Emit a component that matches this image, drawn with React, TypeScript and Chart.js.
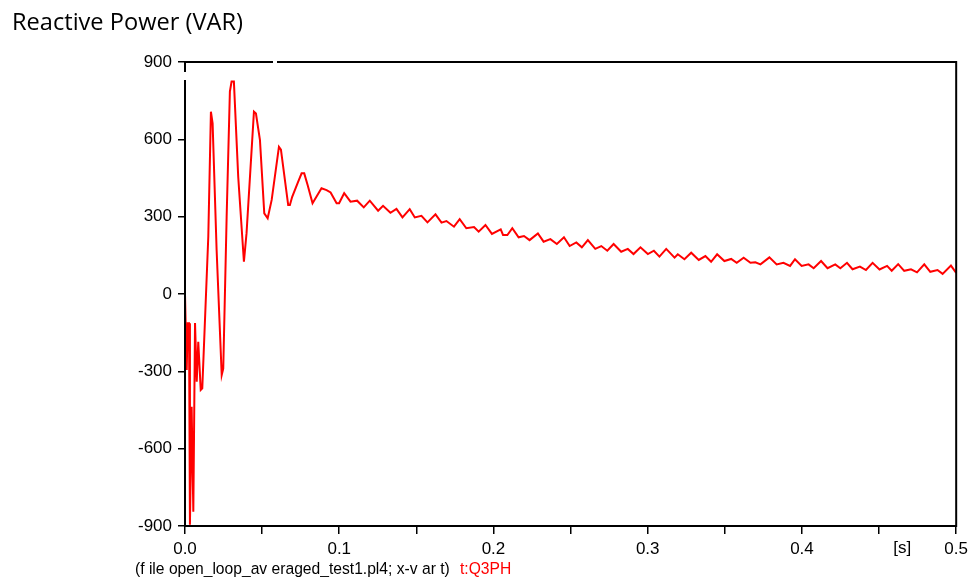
import { useEffect, useRef } from "react";
import { Chart, registerables } from "chart.js";

Chart.register(...registerables);

const TITLE = "Reactive Power (VAR)";
const FOOTER_FILE = "(f ile open_loop_av eraged_test1.pl4; x-v ar t)";
const FOOTER_VAR = "t:Q3PH";
const X_UNIT = "[s]";
const X_UNIT_AT = 0.465;
const X_MIN = 0;
const X_MAX = 0.5;
const X_STEP = 0.05;
const Y_MIN = -900;
const Y_MAX = 900;
const Y_STEP = 300;

const TIME = [
  0, 0.0011, 0.00175, 0.0026, 0.0032, 0.0043, 0.0054, 0.0065, 0.0076, 0.0086,
  0.0102, 0.0112, 0.0151, 0.0168, 0.0179, 0.0205, 0.0238, 0.0248, 0.027, 0.0291,
  0.0302, 0.0317, 0.0345, 0.0382, 0.0399, 0.0447, 0.046, 0.0486, 0.0514, 0.0536,
  0.0562, 0.0609, 0.0622, 0.0669, 0.068, 0.0695, 0.0734, 0.0756, 0.0773, 0.0795,
  0.0827, 0.0885, 0.0918, 0.0944, 0.0983, 0.0999, 0.1032, 0.1073, 0.1116, 0.1159,
  0.1198, 0.1252, 0.1284, 0.1332, 0.1371, 0.141, 0.1457, 0.149, 0.1533, 0.1572,
  0.1624, 0.1663, 0.1695, 0.1744, 0.1781, 0.1824, 0.1874, 0.1904, 0.1948, 0.199,
  0.2047, 0.2062, 0.209, 0.2122, 0.2163, 0.2198, 0.2234, 0.2288, 0.2325, 0.2369,
  0.2411, 0.2457, 0.2494, 0.2537, 0.2573, 0.2612, 0.266, 0.2699, 0.2738, 0.2779,
  0.2828, 0.2871, 0.2908, 0.2953, 0.3001, 0.304, 0.3076, 0.312, 0.3174, 0.3195,
  0.3238, 0.3282, 0.3331, 0.3374, 0.3411, 0.345, 0.3497, 0.3541, 0.3577, 0.3622,
  0.3666, 0.3698, 0.3731, 0.3789, 0.3836, 0.388, 0.3923, 0.3955, 0.3998, 0.4043,
  0.4076, 0.4124, 0.4166, 0.4216, 0.4249, 0.4292, 0.4328, 0.4376, 0.4415, 0.4458,
  0.4503, 0.4552, 0.4582, 0.4624, 0.4663, 0.4707, 0.4746, 0.4793, 0.4832, 0.4879,
  0.4912, 0.4966, 0.5,
];

const Q3PH = [
  0, -295, -113, -113, -895, -437, -845, -113, -340, -185,
  -372, -366, 222, 707, 662, 171, -314, -289, 300, 785,
  824, 824, 455, 125, 236, 707, 700, 597, 313, 294,
  365, 571, 560, 345, 345, 377, 436, 468, 468, 423,
  352, 410, 403, 394, 352, 352, 391, 358, 362, 336,
  362, 323, 342, 315, 330, 297, 329, 297, 303, 278,
  309, 277, 283, 261, 290, 255, 260, 242, 268, 233,
  251, 229, 229, 255, 220, 225, 209, 235, 203, 213,
  194, 220, 186, 200, 181, 209, 175, 186, 168, 194,
  164, 175, 155, 181, 155, 168, 145, 175, 141, 154,
  135, 160, 132, 147, 125, 154, 128, 136, 121, 141,
  121, 123, 115, 142, 115, 121, 109, 135, 109, 115,
  100, 128, 100, 115, 100, 121, 96, 106, 93, 121,
  95, 109, 90, 116, 90, 96, 84, 115, 86, 93,
  78, 110, 82,
];

const TICK_FONT = "'Liberation Sans', Arial, sans-serif";

const decorPlugin = {
  id: "decor",
  afterDraw(chart: any) {
    const { ctx, chartArea } = chart;
    const { left, right, top, bottom } = chartArea;
    ctx.save();
    // frame
    ctx.strokeStyle = "#000";
    ctx.lineWidth = 2;
    ctx.strokeRect(left, top, right - left, bottom - top);
    // small gaps present in the original frame
    ctx.fillStyle = "#fff";
    ctx.fillRect(273, top - 2, 4, 4);
    ctx.fillRect(left - 2, 72, 4, 8);

    // title
    ctx.fillStyle = "#000";
    ctx.textBaseline = "alphabetic";
    ctx.textAlign = "left";
    ctx.font = "20px 'Open Sans', sans-serif";
    let w = ctx.measureText(TITLE).width;
    const tSize = (20 * 231) / w;
    ctx.font = `${tSize}px 'Open Sans', sans-serif`;
    ctx.fillText(TITLE, 12, 29.5);

    // unit label on x axis
    const xs = chart.scales.x;
    ctx.font = `17px ${TICK_FONT}`;
    ctx.textAlign = "center";
    ctx.textBaseline = "top";
    ctx.fillText(X_UNIT, xs.getPixelForValue(X_UNIT_AT), bottom + 14);

    // footer
    ctx.textAlign = "left";
    ctx.textBaseline = "alphabetic";
    ctx.font = `14px ${TICK_FONT}`;
    w = ctx.measureText(FOOTER_FILE).width;
    const fSize = (14 * 315) / w;
    ctx.font = `${fSize}px ${TICK_FONT}`;
    ctx.fillText(FOOTER_FILE, 135, 574);
    ctx.fillStyle = "#ff0000";
    ctx.fillText(FOOTER_VAR, 460, 574);
    ctx.restore();
  },
};

export default function App() {
  const ref = useRef<HTMLCanvasElement | null>(null);

  useEffect(() => {
    if (!ref.current) return;
    const points = TIME.map((t, i) => ({ x: t, y: Q3PH[i] }));
    const chart = new Chart(ref.current, {
      type: "line",
      data: {
        datasets: [
          {
            label: FOOTER_VAR,
            data: points,
            borderColor: "#ff0000",
            borderWidth: 2,
            pointRadius: 0,
            tension: 0,
            fill: false,
          },
        ],
      },
      options: {
        animation: false,
        responsive: false,
        maintainAspectRatio: false,
        devicePixelRatio: 1,
        layout: { padding: { left: 0, top: 62, right: 16, bottom: 0 } },
        plugins: {
          legend: { display: false },
          title: { display: false },
          tooltip: { enabled: false },
        },
        scales: {
          x: {
            type: "linear",
            min: X_MIN,
            max: X_MAX,
            afterFit: (s: any) => {
              s.height = 51;
            },
            border: { display: false },
            grid: {
              display: true,
              drawOnChartArea: false,
              drawTicks: true,
              tickLength: 8,
              color: "#000",
              lineWidth: 1.5,
            },
            ticks: {
              stepSize: X_STEP,
              autoSkip: false,
              maxRotation: 0,
              padding: 5,
              color: "#000",
              font: { family: TICK_FONT, size: 17 },
              callback: (v: any) => {
                const n = Number(v);
                const r = Math.round(n * 10);
                if (Math.abs(n * 10 - r) < 1e-6) return (r / 10).toFixed(1);
                return "";
              },
            },
          },
          y: {
            type: "linear",
            min: Y_MIN,
            max: Y_MAX,
            afterFit: (s: any) => {
              s.width = 185;
            },
            border: { display: false },
            grid: {
              display: true,
              drawOnChartArea: false,
              drawTicks: true,
              tickLength: 7,
              color: "#000",
              lineWidth: 1.5,
            },
            ticks: {
              stepSize: Y_STEP,
              padding: 6,
              color: "#000",
              font: { family: TICK_FONT, size: 17 },
            },
          },
        },
      },
      plugins: [decorPlugin],
    });
    return () => chart.destroy();
  }, []);

  return (
    <div style={{ position: "fixed", left: 0, top: 0, width: 973, height: 577, background: "#fff" }}>
      <canvas ref={ref} width={973} height={577} style={{ width: 973, height: 577 }} />
    </div>
  );
}
